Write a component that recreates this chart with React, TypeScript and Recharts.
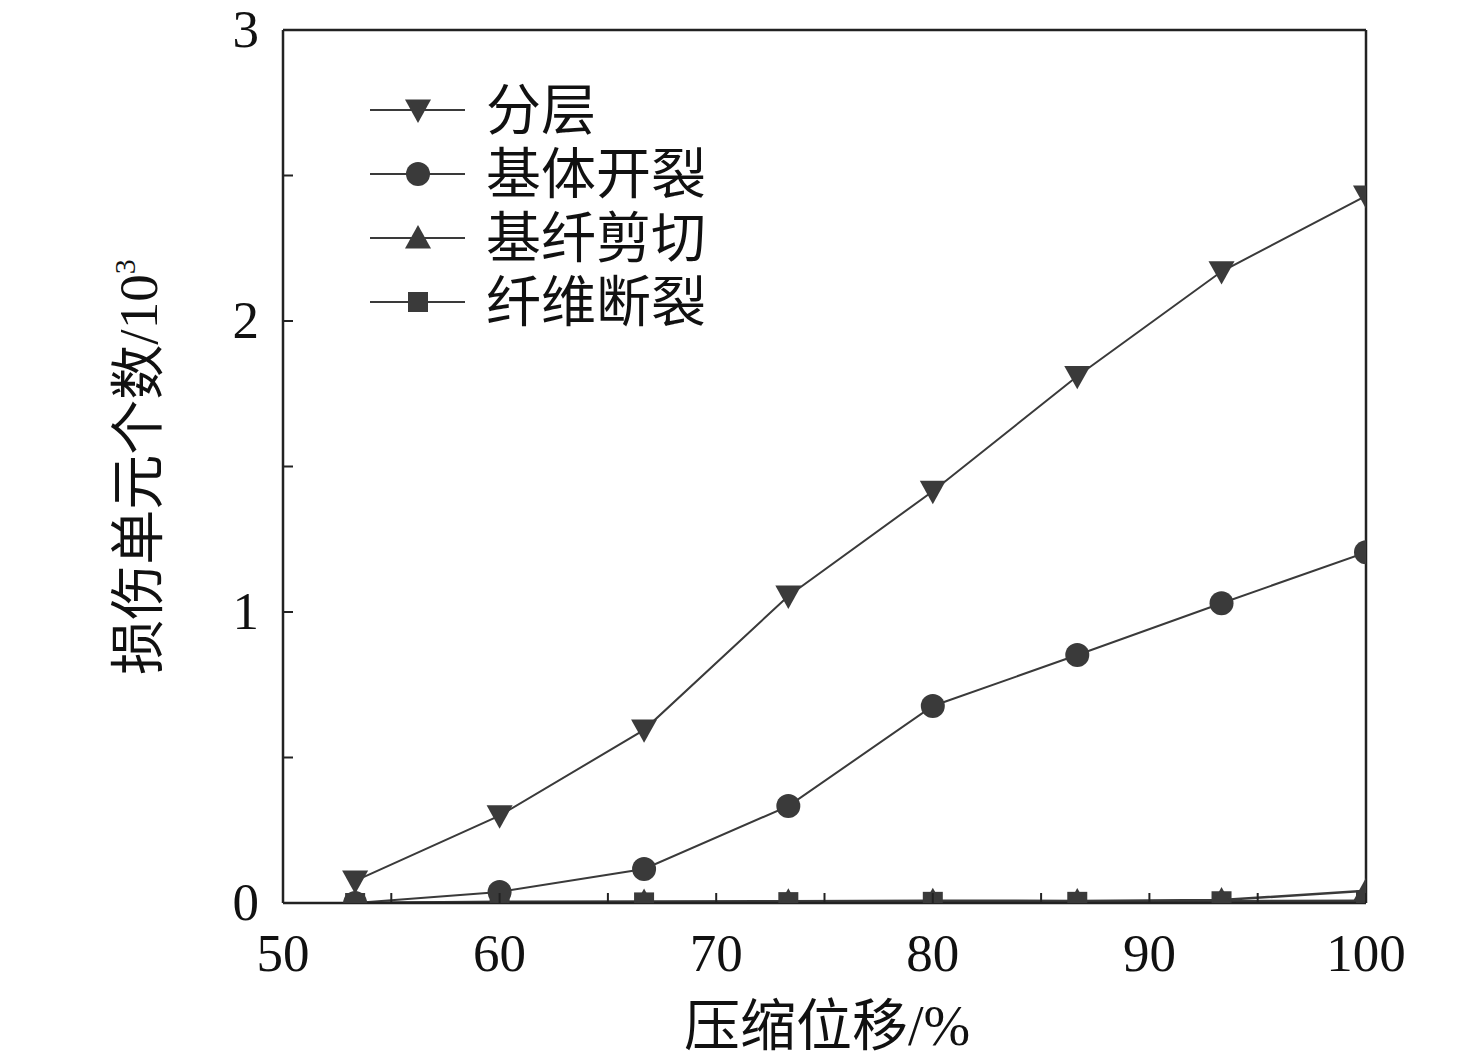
import React from 'react';
import {
  Legend,
  Line,
  LineChart,
  XAxis,
  YAxis,
} from 'recharts';

// compression displacement (%)
const displacement = [53.33, 60, 66.67, 73.33, 80, 86.67, 93.33, 100];
// damaged element counts, unit 10^3
const delamination = [0.076, 0.3, 0.595, 1.055, 1.415, 1.81, 2.17, 2.43];
const matrixCracking = [0.0, 0.038, 0.117, 0.333, 0.677, 0.852, 1.03, 1.205];
const shearFailure = [0.0, 0.004, 0.005, 0.006, 0.008, 0.007, 0.01, 0.042];
const fiberBreakage = [0.0, 0.002, 0.002, 0.003, 0.004, 0.004, 0.006, 0.008];

const seriesNames = ['分层', '基体开裂', '基纤剪切', '纤维断裂'];
const xTicks = [50, 55, 60, 65, 70, 75, 80, 85, 90, 95, 100];
const yTicks = [0, 0.5, 1, 1.5, 2, 2.5, 3];

const INK = '#3a3a3a';
const FONT = '"Liberation Serif", "Noto Sans CJK SC", serif';

const data = displacement.map((x, i) => ({
  x,
  delam: delamination[i],
  matrix: matrixCracking[i],
  shear: shearFailure[i],
  fiber: fiberBreakage[i],
}));

type Shape = 'down' | 'circle' | 'up' | 'square';
const shapes: Shape[] = ['down', 'circle', 'up', 'square'];

function Marker({ cx, cy, shape }: { cx: number; cy: number; shape: Shape }) {
  if (cx == null || cy == null) return null;
  if (shape === 'circle') return <circle cx={cx} cy={cy} r={12} fill={INK} />;
  if (shape === 'square')
    return <rect x={cx - 10} y={cy - 10} width={20} height={20} fill={INK} />;
  const s = 13;
  const pts =
    shape === 'down'
      ? `${cx - s},${cy - s * 0.8} ${cx + s},${cy - s * 0.8} ${cx},${cy + s}`
      : `${cx - s},${cy + s * 0.8} ${cx + s},${cy + s * 0.8} ${cx},${cy - s}`;
  return <polygon points={pts} fill={INK} />;
}

const dotFor = (shape: Shape) => (props: any) => (
  <Marker key={`${shape}-${props.index}`} cx={props.cx} cy={props.cy} shape={shape} />
);

function XTick(props: any) {
  const { x, y, payload } = props;
  const v = payload.value;
  return (
    <g>
      <line x1={x} y1={y} x2={x} y2={y - 10} stroke="#222" strokeWidth={2} />
      {v % 10 === 0 && (
        <text x={x} y={y + 68} textAnchor="middle" fontSize={53} fill="#111" fontFamily={FONT}>
          {v}
        </text>
      )}
    </g>
  );
}

function YTick(props: any) {
  const { x, y, payload } = props;
  const v = payload.value;
  return (
    <g>
      <line x1={x} y1={y} x2={x + 10} y2={y} stroke="#222" strokeWidth={2} />
      {Number.isInteger(v) && (
        <text x={x - 24} y={y + 17} textAnchor="end" fontSize={53} fill="#111" fontFamily={FONT}>
          {v}
        </text>
      )}
    </g>
  );
}

function LegendBox() {
  return (
    <div style={{ fontFamily: FONT, color: '#111' }}>
      {seriesNames.map((name, i) => (
        <div key={name} style={{ display: 'flex', alignItems: 'center', height: 64 }}>
          <svg width={100} height={40}>
            <line x1={2} y1={20} x2={97} y2={20} stroke={INK} strokeWidth={2} />
            <Marker cx={50} cy={20} shape={shapes[i]} />
          </svg>
          <span style={{ fontSize: 55, marginLeft: 18, lineHeight: 1 }}>{name}</span>
        </div>
      ))}
    </div>
  );
}

const axisLine = { stroke: '#222', strokeWidth: 2.5 };

export default function App() {
  return (
    <div style={{ position: 'absolute', left: 0, top: 0, background: '#fff' }}>
      <LineChart
        width={1476}
        height={1063}
        data={data}
        margin={{ top: 29, right: 109, left: 282, bottom: 159 }}
      >
        <XAxis
          dataKey="x"
          type="number"
          domain={[50, 100]}
          ticks={xTicks}
          interval={0}
          allowDataOverflow
          height={1}
          tickSize={0}
          tickMargin={0}
          tickLine={false}
          axisLine={axisLine}
          tick={<XTick />}
        />
        <XAxis
          xAxisId="top"
          orientation="top"
          dataKey="x"
          type="number"
          domain={[50, 100]}
          height={1}
          tick={false}
          tickLine={false}
          axisLine={axisLine}
        />
        <YAxis
          type="number"
          domain={[0, 3]}
          ticks={yTicks}
          interval={0}
          allowDataOverflow
          width={1}
          tickSize={0}
          tickMargin={0}
          tickLine={false}
          axisLine={axisLine}
          tick={<YTick />}
        />
        <YAxis
          yAxisId="right"
          orientation="right"
          type="number"
          domain={[0, 3]}
          width={1}
          tick={false}
          tickLine={false}
          axisLine={axisLine}
        />
        <Legend
          layout="horizontal"
          align="center"
          verticalAlign="middle"
          content={() => <LegendBox />}
          wrapperStyle={{ position: 'absolute', left: 368, top: 78, width: 'auto' }}
        />
        <Line dataKey="fiber" name={seriesNames[3]} stroke={INK} strokeWidth={2.5} dot={dotFor('square')} isAnimationActive={false} />
        <Line dataKey="shear" name={seriesNames[2]} stroke={INK} strokeWidth={2.5} dot={dotFor('up')} isAnimationActive={false} />
        <Line dataKey="matrix" name={seriesNames[1]} stroke={INK} strokeWidth={2} dot={dotFor('circle')} isAnimationActive={false} />
        <Line dataKey="delam" name={seriesNames[0]} stroke={INK} strokeWidth={2} dot={dotFor('down')} isAnimationActive={false} />
        <text
          x={827}
          y={1045}
          textAnchor="middle"
          fontSize={56}
          fill="#111"
          fontFamily={FONT}
        >
          压缩位移/%
        </text>
        <text
          x={157}
          y={467}
          textAnchor="middle"
          fontSize={55}
          fill="#111"
          fontFamily={FONT}
          transform="rotate(-90 157 467)"
        >
          损伤单元个数/10<tspan fontSize={30} dy={-22}>3</tspan>
        </text>
      </LineChart>
    </div>
  );
}
